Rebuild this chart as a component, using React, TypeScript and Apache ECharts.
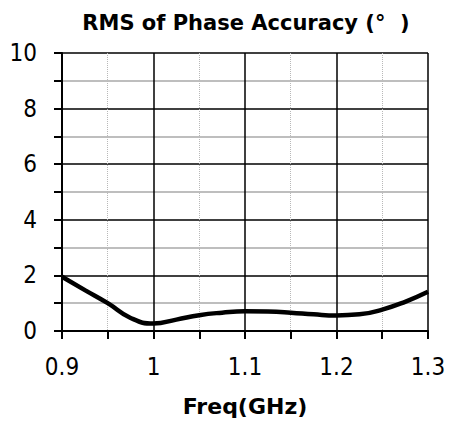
import React, { useEffect, useRef } from "react";
import * as echarts from "echarts";

const titleText = "RMS of Phase Accuracy (°  )";
const xName = "Freq(GHz)";
const freq = [0.9, 0.925, 0.95, 0.975, 1.0, 1.025, 1.05, 1.075, 1.1, 1.125, 1.15, 1.175, 1.2, 1.225, 1.25, 1.275, 1.3];
const rms = [1.95, 1.47, 1.0, 0.47, 0.27, 0.41, 0.57, 0.66, 0.71, 0.7, 0.66, 0.6, 0.56, 0.6, 0.77, 1.05, 1.41];

const FONT = "'DejaVu Sans Condensed', 'DejaVu Sans', sans-serif";
const BOLD = "'DejaVu Sans', sans-serif";

export default function App() {
  const ref = useRef<HTMLDivElement>(null);
  useEffect(() => {
    if (!ref.current) return;
    const chart = echarts.init(ref.current, null, { renderer: "svg" });
    chart.setOption({
      animation: false,
      backgroundColor: "#fff",
      title: {
        text: titleText,
        left: 241,
        top: 7,
        textAlign: "center",
        textStyle: { fontFamily: BOLD, fontWeight: "bold", fontSize: 21, color: "#000" },
      },
      grid: { left: 62, right: 23, top: 53, bottom: 92 },
      xAxis: {
        type: "value",
        min: 0.9,
        max: 1.3,
        interval: 0.1,
        name: xName,
        nameLocation: "middle",
        nameGap: 64,
        nameTextStyle: { fontFamily: BOLD, fontWeight: "bold", fontSize: 22, color: "#000" },
        axisLine: { onZero: false, lineStyle: { color: "#000", width: 2 } },
        axisTick: { show: true, length: 8, lineStyle: { color: "#000", width: 2 } },
        minorTick: { show: true, splitNumber: 2, length: 8, lineStyle: { color: "#000", width: 2 } },
        axisLabel: {
          margin: 24,
          fontFamily: FONT,
          fontSize: 24,
          color: "#000",
          formatter: (v: number) => String(+v.toFixed(1)),
        },
        splitLine: { show: true, lineStyle: { color: "#000", width: 1.5 } },
        minorSplitLine: { show: true, lineStyle: { color: "#b8b8b8", width: 1, type: "dotted" } },
      },
      yAxis: {
        type: "value",
        min: 0,
        max: 10,
        interval: 2,
        axisLine: { show: true, onZero: false, lineStyle: { color: "#000", width: 2 } },
        axisTick: { show: true, length: 8, lineStyle: { color: "#000", width: 2 } },
        minorTick: { show: true, splitNumber: 2, length: 8, lineStyle: { color: "#000", width: 2 } },
        axisLabel: { margin: 25, fontFamily: FONT, fontSize: 24, color: "#000" },
        splitLine: { show: true, lineStyle: { color: "#000", width: 1.5 } },
        minorSplitLine: { show: true, lineStyle: { color: "#a8a8a8", width: 1.5 } },
      },
      series: [
        {
          type: "line",
          data: freq.map((f, i) => [f, rms[i]]),
          smooth: 0.5,
          showSymbol: false,
          lineStyle: { color: "#000", width: 4.5 },
        },
      ],
    });
    return () => chart.dispose();
  }, []);
  return (
    <div
      ref={ref}
      style={{ position: "absolute", left: 0, top: 0, width: 451, height: 423, background: "#fff" }}
    />
  );
}
